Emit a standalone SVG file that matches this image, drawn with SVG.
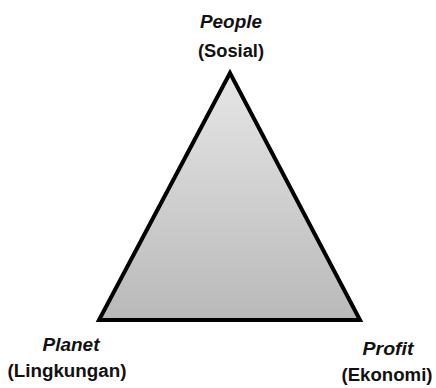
<svg xmlns="http://www.w3.org/2000/svg" width="436" height="388" viewBox="0 0 436 388">
<style>
.t{font-family:"Liberation Sans",Arial,sans-serif;font-weight:bold;font-size:18px;fill:#111;text-anchor:middle}
.i{font-style:italic}
</style>
<defs>
<linearGradient id="g" x1="0" y1="0" x2="0" y2="1">
<stop offset="0" stop-color="#e6e6e6"/>
<stop offset="1" stop-color="#b9b9b9"/>
</linearGradient>
</defs>
<rect width="436" height="388" fill="#fff"/>
<g id="triangle">
<polygon points="230,73 99,320 360,320" fill="url(#g)" stroke="#000" stroke-width="4" stroke-linejoin="miter"/>
</g>
<g id="people">
<text class="t i" x="231" y="28" textLength="62" lengthAdjust="spacingAndGlyphs">People</text>
<text class="t" x="231" y="57" textLength="66" lengthAdjust="spacingAndGlyphs">(Sosial)</text>
</g>
<g id="planet">
<text class="t i" x="71" y="351" textLength="57" lengthAdjust="spacingAndGlyphs">Planet</text>
<text class="t" x="67" y="377" textLength="119" lengthAdjust="spacingAndGlyphs">(Lingkungan)</text>
</g>
<g id="profit">
<text class="t i" x="388" y="355" textLength="51" lengthAdjust="spacingAndGlyphs">Profit</text>
<text class="t" x="387" y="381" textLength="91" lengthAdjust="spacingAndGlyphs">(Ekonomi)</text>
</g>
<g id="connectors"></g>
</svg>
